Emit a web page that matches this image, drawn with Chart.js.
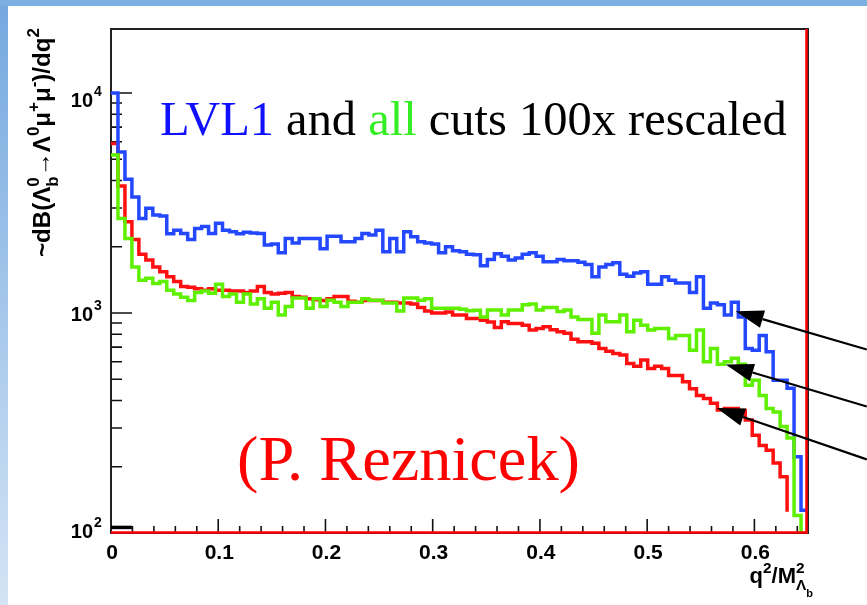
<!DOCTYPE html>
<html>
<head>
<meta charset="utf-8">
<script src="https://cdn.jsdelivr.net/npm/chart.js@4.4.1/dist/chart.umd.min.js"></script>
<style>
  html, body { margin: 0; padding: 0; background: #fff; }
  #wrap { width: 867px; height: 605px; }
</style>
</head>
<body>
<div id="wrap"><canvas id="graph" width="867" height="605"></canvas></div>
<script>
// q^2/M^2 binning: 100 bins from 0 to 0.65
const binLow = 0;
const binHigh = 0.65;
const nBins = 100;

// LVL1 cuts (blue)
const lvl1 = [
  10000, 5400, 4060, 3370, 2690, 2990, 2790, 2760, 2290, 2380,
  2300, 2160, 2420, 2470, 2300, 2560, 2380, 2340, 2290, 2330,
  2310, 2300, 2040, 2060, 1880, 2180, 2080, 2180, 2180, 2180,
  1960, 2230, 2230, 2110, 2110, 2180, 2300, 2260, 2380, 1900,
  2180, 1900, 2340, 2220, 2110, 2080, 2060, 1880, 2000, 1920,
  1900, 1850, 1840, 1640, 1750, 1860, 1810, 1740, 1780, 1850,
  1880, 1810, 1710, 1710, 1750, 1730, 1730, 1700, 1660, 1460,
  1620, 1660, 1690, 1500, 1470, 1520, 1540, 1350, 1350, 1460,
  1410, 1370, 1370, 1240, 1460, 1050, 1110, 1090, 980, 1120,
  960, 690, 678, 790, 667, 495, 495, 455, 222, 127
];

// generated, no cuts (red)
const generated = [
  5900, 3780, 2600, 2160, 1850, 1740, 1620, 1540, 1460, 1390,
  1320, 1310, 1290, 1270, 1290, 1270, 1270, 1260, 1260, 1240,
  1260, 1320, 1240, 1220, 1230, 1240, 1190, 1180, 1160, 1150,
  1140, 1160, 1190, 1190, 1130, 1120, 1140, 1140, 1140, 1120,
  1120, 1110, 1110, 1100, 1060, 1020, 1000, 1000, 1010, 980,
  980, 945, 945, 928, 910, 860, 912, 895, 895, 880,
  836, 850, 865, 840, 822, 808, 760, 740, 740, 728,
  690, 670, 655, 645, 590, 572, 611, 560, 572, 560,
  520, 520, 487, 453, 422, 409, 389, 362, 368, 368,
  360, 326, 278, 250, 238, 208, 180, 125, 0, 0
];

// all cuts, 100x rescaled (green)
const allCuts = [
  5220, 2690, 2180, 1620, 1410, 1440, 1360, 1390, 1270, 1220,
  1180, 1140, 1240, 1260, 1230, 1350, 1190, 1220, 1120, 1220,
  1100, 1160, 1050, 1120, 980, 1070, 1170, 1170, 1050, 1160,
  1070, 1144, 1120, 1070, 1120, 1120, 1160, 1144, 1144, 1110,
  1110, 1020, 1170, 1170, 1144, 1160, 1050, 1050, 1050, 1050,
  1040, 1025, 1030, 960, 1031, 1031, 980, 1031, 1031, 1090,
  1100, 1031, 1060, 1060, 1015, 1031, 960, 935, 935, 808,
  980, 912, 912, 980, 822, 928, 880, 836, 850, 850,
  766, 790, 790, 678, 836, 600, 690, 585, 600, 623,
  585, 470, 495, 422, 368, 355, 305, 270, 120, 100
];

// small black histogram near the bottom
const other = [106, 106, 106];

const xMajorTicks = [0, 0.1, 0.2, 0.3, 0.4, 0.5, 0.6];
const xTickLabels = ['0', '0.1', '0.2', '0.3', '0.4', '0.5', '0.6'];
const yMajorTicks = [100, 1000, 10000];
const yTickExponents = ['2', '3', '4'];

// arrows: tail (outside the frame) -> tip on the curves
const arrowTails = [{x: 0.7048, y: 682}, {x: 0.7048, y: 376}, {x: 0.7048, y: 216}];
const arrowTips = [{x: 0.5825, y: 1018}, {x: 0.5732, y: 583}, {x: 0.5648, y: 370}];

const xMinorTicks = [];
for (let v = 0.02; v < binHigh; v += 0.02) xMinorTicks.push(+v.toFixed(2));
const yMinorTicks = [];
for (const d of [100, 1000]) for (let m = 2; m <= 9; m++) yMinorTicks.push(m * d);

function histPoints(values) {
  const w = (binHigh - binLow) / nBins;
  const pts = [{x: binLow, y: 0}];
  values.forEach((v, i) => pts.push({x: binLow + i * w, y: v}));
  pts.push({x: binLow + values.length * w, y: values[values.length - 1]});
  pts.push({x: binLow + values.length * w, y: 0});
  return pts;
}

function drawRich(ctx, parts, x, y, size, family, measureOnly) {
  let cx = x;
  for (const p of parts) {
    if (p.pair) {
      ctx.font = `bold ${size * 0.7}px ${family}`;
      const w1 = ctx.measureText(p.pair[0]).width;
      const w2 = ctx.measureText(p.pair[1]).width;
      if (!measureOnly) {
        ctx.fillText(p.pair[0], cx, y + size * 0.32);
        ctx.fillText(p.pair[1], cx, y - size * 0.45);
      }
      cx += Math.max(w1, w2);
    } else {
      let sc = 1, dy = 0;
      if (p.k === 'sup') { sc = 0.7; dy = -size * 0.45; }
      if (p.k === 'sub') { sc = 0.7; dy = size * 0.32; }
      if (p.k === 'subsub') { sc = 0.5; dy = size * 0.62; }
      ctx.font = `bold ${size * sc}px ${family}`;
      if (!measureOnly) ctx.fillText(p.t, cx, y + dy);
      cx += ctx.measureText(p.t).width;
    }
  }
  return cx - x;
}

function drawArrow(ctx, x0, y0, x1, y1) {
  const ang = Math.atan2(y1 - y0, x1 - x0);
  const headLen = 28, headHalf = 9;
  const bx = x1 - headLen * Math.cos(ang), by = y1 - headLen * Math.sin(ang);
  ctx.beginPath();
  ctx.moveTo(x0, y0);
  ctx.lineTo(bx, by);
  ctx.stroke();
  ctx.beginPath();
  ctx.moveTo(x1, y1);
  ctx.lineTo(bx + headHalf * Math.sin(ang), by - headHalf * Math.cos(ang));
  ctx.lineTo(bx - headHalf * Math.sin(ang), by + headHalf * Math.cos(ang));
  ctx.closePath();
  ctx.fill();
}

const sans = '"Liberation Sans", Arial, sans-serif';
const serif = '"Liberation Serif", "Times New Roman", serif';

const slideBackground = {
  id: 'slideBackground',
  beforeDraw(chart) {
    const {ctx, width, height} = chart;
    ctx.save();
    ctx.fillStyle = '#fff';
    ctx.fillRect(0, 0, width, height);
    const g = ctx.createLinearGradient(0, 0, 0, height);
    g.addColorStop(0, '#74a8df');
    g.addColorStop(1, '#d4e4f5');
    ctx.fillStyle = g;
    ctx.fillRect(0, 0, 8, height);
    ctx.fillStyle = '#7cb0e2';
    ctx.fillRect(0, 0, width, 6);
    ctx.restore();
  }
};

const rootAxes = {
  id: 'rootAxes',
  beforeDatasetsDraw(chart) {
    const {ctx, chartArea: a, scales: {x, y}} = chart;
    ctx.save();
    ctx.strokeStyle = '#111';
    ctx.lineWidth = 1.6;
    ctx.beginPath();
    xMinorTicks.forEach(v => {
      const px = x.getPixelForValue(v);
      ctx.moveTo(px, a.bottom); ctx.lineTo(px, a.bottom - 7);
    });
    xMajorTicks.forEach(v => {
      const px = x.getPixelForValue(v);
      ctx.moveTo(px, a.bottom); ctx.lineTo(px, a.bottom - 14);
    });
    yMinorTicks.forEach(v => {
      const py = y.getPixelForValue(v);
      ctx.moveTo(a.left, py); ctx.lineTo(a.left + 11, py);
    });
    yMajorTicks.forEach(v => {
      const py = y.getPixelForValue(v);
      ctx.moveTo(a.left, py); ctx.lineTo(a.left + 21, py);
    });
    ctx.stroke();

    ctx.lineWidth = 2;
    ctx.strokeStyle = '#222';
    ctx.strokeRect(a.left, a.top, a.right - a.left, a.bottom - a.top);

    // tick labels
    ctx.fillStyle = '#000';
    ctx.font = `bold 21px ${sans}`;
    ctx.textAlign = 'center';
    ctx.textBaseline = 'alphabetic';
    xMajorTicks.forEach((v, i) => {
      ctx.fillText(xTickLabels[i], x.getPixelForValue(v) + 1, a.bottom + 26);
    });
    const yShift = [-3, 0, 6];
    yMajorTicks.forEach((v, i) => {
      const py = y.getPixelForValue(v) + yShift[i];
      ctx.font = `bold 20px ${sans}`;
      ctx.textAlign = 'right';
      ctx.fillText('10', 93, py + 8);
      ctx.font = `bold 14px ${sans}`;
      ctx.textAlign = 'left';
      ctx.fillText(yTickExponents[i], 94, py - 3);
    });

    // y title (rotated)
    const yParts = [
      {t: '~dB(Λ'}, {pair: ['b', '0']}, {t: '→Λ'}, {t: '0', k: 'sup'},
      {t: 'μ'}, {t: '+', k: 'sup'}, {t: 'μ'}, {t: '-', k: 'sup'},
      {t: ')/dq'}, {t: '2', k: 'sup'}
    ];
    ctx.textAlign = 'left';
    const w0 = drawRich(ctx, yParts, 0, 0, 17, sans, true);
    const ySize = 17 * 229 / w0;
    ctx.save();
    ctx.translate(50, 257);
    ctx.rotate(-Math.PI / 2);
    drawRich(ctx, yParts, 0, 0, ySize, sans, false);
    ctx.restore();

    // x title
    const xParts = [{t: 'q'}, {t: '2', k: 'sup'}, {t: '/M'}, {pair: ['Λ', '2']}, {t: 'b', k: 'subsub'}];
    const xw = drawRich(ctx, xParts, 0, 0, 22, sans, true);
    drawRich(ctx, xParts, 813 - xw, 583, 22, sans, false);
    ctx.restore();
  },
  afterDatasetsDraw(chart) {
    const {ctx, chartArea: a, scales: {x, y}} = chart;
    ctx.save();
    // red lines along bottom and right edge of the frame
    ctx.strokeStyle = '#ff0000';
    ctx.lineWidth = 2.5;
    ctx.beginPath();
    ctx.moveTo(a.left, a.bottom - 0.5);
    ctx.lineTo(a.right - 1.5, a.bottom - 0.5);
    ctx.lineTo(a.right - 1.5, a.top);
    ctx.stroke();

    // arrows
    ctx.strokeStyle = '#000';
    ctx.fillStyle = '#000';
    ctx.lineWidth = 2.2;
    arrowTips.forEach((tip, i) => {
      const tail = arrowTails[i];
      drawArrow(ctx, x.getPixelForValue(tail.x), y.getPixelForValue(tail.y),
        x.getPixelForValue(tip.x), y.getPixelForValue(tip.y));
    });

    // annotation texts
    ctx.textAlign = 'left';
    ctx.textBaseline = 'alphabetic';
    const pieces = [
      ['LVL1', '#1010ff'], [' and ', '#000'], ['all', '#33ee22'], [' cuts 100x rescaled', '#000']
    ];
    ctx.font = `48px ${serif}`;
    const full = ctx.measureText(pieces.map(p => p[0]).join('')).width;
    const size1 = 48 * 627 / full;
    ctx.font = `${size1}px ${serif}`;
    let cx = 160;
    pieces.forEach(([t, c]) => {
      ctx.fillStyle = c;
      ctx.fillText(t, cx, 135);
      cx += ctx.measureText(t).width;
    });

    ctx.font = `60px ${serif}`;
    const rw = ctx.measureText('(P. Reznicek)').width;
    ctx.font = `${60 * 343 / rw}px ${serif}`;
    ctx.fillStyle = '#ff0000';
    ctx.fillText('(P. Reznicek)', 237, 480);
    ctx.restore();
  }
};

function histDataset(values, color, order) {
  return {
    data: histPoints(values),
    borderColor: color,
    borderWidth: 3.5,
    stepped: 'before',
    pointRadius: 0,
    fill: false,
    borderJoinStyle: 'miter',
    borderCapStyle: 'butt',
    order: order
  };
}

const chart = new Chart(document.getElementById('graph'), {
  type: 'line',
  data: {
    datasets: [
      histDataset(allCuts, '#5fef00', 0),
      histDataset(lvl1, '#2348ff', 1),
      histDataset(generated, '#ff1010', 2),
      histDataset(other, '#000000', 3)
    ]
  },
  options: {
    responsive: false,
    animation: false,
    devicePixelRatio: 1,
    layout: { padding: { left: 111, top: 29, right: 59, bottom: 72 } },
    plugins: { legend: { display: false }, tooltip: { enabled: false } },
    scales: {
      x: { type: 'linear', min: binLow, max: binHigh, display: false },
      y: { type: 'logarithmic', min: 100, max: 19540, display: false }
    }
  },
  plugins: [slideBackground, rootAxes]
});
</script>
</body>
</html>
